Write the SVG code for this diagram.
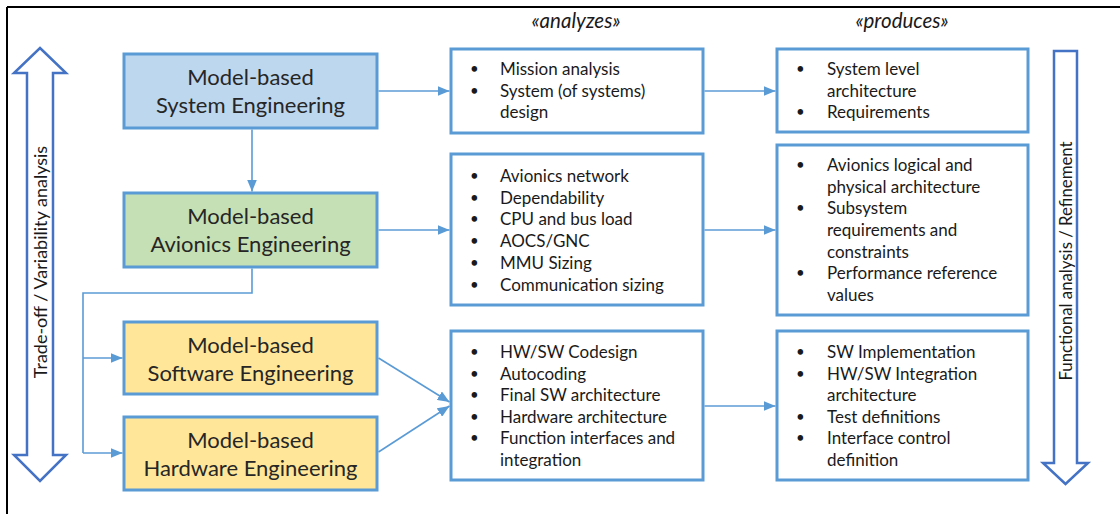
<svg xmlns="http://www.w3.org/2000/svg" width="1120" height="514" viewBox="0 0 1120 514">
  <defs>
    <marker id="tri" viewBox="0 0 12 10" refX="12" refY="5" markerWidth="12" markerHeight="10" markerUnits="userSpaceOnUse" orient="auto">
      <path d="M0,0 L12,5 L0,10 Z" fill="#5B9BD5"/>
    </marker>
  </defs>
  <style>
    .eng { stroke: #5B9BD5; stroke-width: 3; }
    .list { fill: #ffffff; stroke: #5B9BD5; stroke-width: 3; }
    .big { fill: none; stroke: #4472C4; stroke-width: 2.5; stroke-linejoin: miter; }
    .conn { fill: none; stroke: #5B9BD5; stroke-width: 1.6; }
    .title { font-family: Lato, "Liberation Sans", sans-serif; font-size: 22px; fill: #262626; text-anchor: middle; }
    .item { font-family: Lato, "Liberation Sans", sans-serif; font-size: 17px; fill: #1a1a1a; }
    .dot { font-family: Lato, "Liberation Sans", sans-serif; font-size: 15px; fill: #1a1a1a; }
    .side { font-family: Lato, "Liberation Sans", sans-serif; font-size: 18px; fill: #1a1a1a; text-anchor: middle; }
    .stereo { font-family: Lato, "Liberation Sans", sans-serif; font-size: 20.5px; font-style: italic; fill: #1a1a1a; text-anchor: middle; }
  </style>

  <rect width="1120" height="514" fill="#ffffff"/>

  <!-- frame edges -->
  <line x1="7" y1="7" x2="1120" y2="7" stroke="#000" stroke-width="2"/>
  <line x1="7" y1="7" x2="7" y2="514" stroke="#000" stroke-width="2"/>

  <!-- column headings -->
  <text class="stereo" x="576" y="28">«analyzes»</text>
  <text class="stereo" x="902" y="28">«produces»</text>

  <!-- double-headed trade-off arrow -->
  <g id="tradeoff">
    <path class="big" d="M40,48 L66,73 L53,73 L53,455 L66,455 L40,481 L14,455 L27,455 L27,73 L14,73 Z" fill="#ffffff"/>
    <text class="side" transform="translate(46.5,262) rotate(-90)">Trade-off / Variability analysis</text>
  </g>

  <!-- refinement arrow -->
  <g id="refinement">
    <path class="big" d="M1054,51 L1077,51 L1077,463 L1088,463 L1065.5,484 L1043,463 L1054,463 Z" fill="#ffffff"/>
    <text class="side" style="font-size:16.8px" transform="translate(1072,261) rotate(-90)">Functional analysis / Refinement</text>
  </g>

  <!-- engineering disciplines -->
  <g id="mbse">
    <rect class="eng" x="124" y="54" width="253" height="74" fill="#BDD7EE"/>
    <text class="title" x="250.5" y="85">Model-based</text>
    <text class="title" x="250.5" y="113">System Engineering</text>
  </g>
  <g id="mbae">
    <rect class="eng" x="124" y="193" width="253" height="74" fill="#C5E0B4"/>
    <text class="title" x="250.5" y="224">Model-based</text>
    <text class="title" x="250.5" y="252">Avionics Engineering</text>
  </g>
  <g id="mbswe">
    <rect class="eng" x="124" y="322" width="253" height="72" fill="#FFE699"/>
    <text class="title" x="250.5" y="353">Model-based</text>
    <text class="title" x="250.5" y="381">Software Engineering</text>
  </g>
  <g id="mbhwe">
    <rect class="eng" x="124" y="417" width="253" height="73" fill="#FFE699"/>
    <text class="title" x="250.5" y="448">Model-based</text>
    <text class="title" x="250.5" y="476">Hardware Engineering</text>
  </g>

  <!-- analyses -->
  <g id="analysis-system">
    <rect class="list" x="451" y="49" width="252" height="84"/>
    <text class="dot" x="470" y="74">•</text><text class="item" x="500" y="75">Mission analysis</text>
    <text class="dot" x="470" y="96">•</text><text class="item" x="500" y="97">System (of systems)</text>
    <text class="item" x="500" y="118">design</text>
  </g>
  <g id="analysis-avionics">
    <rect class="list" x="451" y="154" width="252" height="151"/>
    <text class="dot" x="470" y="181">•</text><text class="item" x="500" y="182">Avionics network</text>
    <text class="dot" x="470" y="203">•</text><text class="item" x="500" y="204">Dependability</text>
    <text class="dot" x="470" y="224">•</text><text class="item" x="500" y="225">CPU and bus load</text>
    <text class="dot" x="470" y="246">•</text><text class="item" x="500" y="247">AOCS/GNC</text>
    <text class="dot" x="470" y="268">•</text><text class="item" x="500" y="269">MMU Sizing</text>
    <text class="dot" x="470" y="290">•</text><text class="item" x="500" y="291">Communication sizing</text>
  </g>
  <g id="analysis-swhw">
    <rect class="list" x="451" y="331" width="252" height="149"/>
    <text class="dot" x="470" y="357">•</text><text class="item" x="500" y="358">HW/SW Codesign</text>
    <text class="dot" x="470" y="379">•</text><text class="item" x="500" y="380">Autocoding</text>
    <text class="dot" x="470" y="400">•</text><text class="item" x="500" y="401">Final SW architecture</text>
    <text class="dot" x="470" y="422">•</text><text class="item" x="500" y="423">Hardware architecture</text>
    <text class="dot" x="470" y="443">•</text><text class="item" x="500" y="444">Function interfaces and</text>
    <text class="item" x="500" y="466">integration</text>
  </g>

  <!-- products -->
  <g id="product-system">
    <rect class="list" x="777" y="49" width="251" height="83"/>
    <text class="dot" x="796" y="74">•</text><text class="item" x="827" y="75">System level</text>
    <text class="item" x="827" y="97">architecture</text>
    <text class="dot" x="796" y="117">•</text><text class="item" x="827" y="118">Requirements</text>
  </g>
  <g id="product-avionics">
    <rect class="list" x="777" y="145" width="251" height="170"/>
    <text class="dot" x="796" y="170">•</text><text class="item" x="827" y="171">Avionics logical and</text>
    <text class="item" x="827" y="193">physical architecture</text>
    <text class="dot" x="796" y="213">•</text><text class="item" x="827" y="214">Subsystem</text>
    <text class="item" x="827" y="236">requirements  and</text>
    <text class="item" x="827" y="258">constraints</text>
    <text class="dot" x="796" y="278">•</text><text class="item" x="827" y="279">Performance  reference</text>
    <text class="item" x="827" y="301">values</text>
  </g>
  <g id="product-swhw">
    <rect class="list" x="777" y="331" width="251" height="149"/>
    <text class="dot" x="796" y="357">•</text><text class="item" x="827" y="358">SW Implementation</text>
    <text class="dot" x="796" y="379">•</text><text class="item" x="827" y="380">HW/SW Integration</text>
    <text class="item" x="827" y="401">architecture</text>
    <text class="dot" x="796" y="422">•</text><text class="item" x="827" y="423">Test definitions</text>
    <text class="dot" x="796" y="443">•</text><text class="item" x="827" y="444">Interface control</text>
    <text class="item" x="827" y="466">definition</text>
  </g>

  <!-- connectors -->
  <g id="connectors">
    <line class="conn" x1="252" y1="129.5" x2="252" y2="191.5" marker-end="url(#tri)"/>
    <polyline class="conn" points="252,268.5 252,293 83,293 83,453"/>
    <line class="conn" x1="83" y1="358" x2="122.5" y2="358" marker-end="url(#tri)"/>
    <line class="conn" x1="83" y1="453" x2="122.5" y2="453" marker-end="url(#tri)"/>

    <line class="conn" x1="378.5" y1="91" x2="449.5" y2="91" marker-end="url(#tri)"/>
    <line class="conn" x1="378.5" y1="230" x2="449.5" y2="230" marker-end="url(#tri)"/>
    <line class="conn" x1="378.5" y1="358" x2="449.5" y2="402" marker-end="url(#tri)"/>
    <line class="conn" x1="378.5" y1="452" x2="449.5" y2="406" marker-end="url(#tri)"/>

    <line class="conn" x1="704.5" y1="91" x2="775.5" y2="91" marker-end="url(#tri)"/>
    <line class="conn" x1="704.5" y1="230" x2="775.5" y2="230" marker-end="url(#tri)"/>
    <line class="conn" x1="704.5" y1="406" x2="775.5" y2="406" marker-end="url(#tri)"/>
  </g>
</svg>
